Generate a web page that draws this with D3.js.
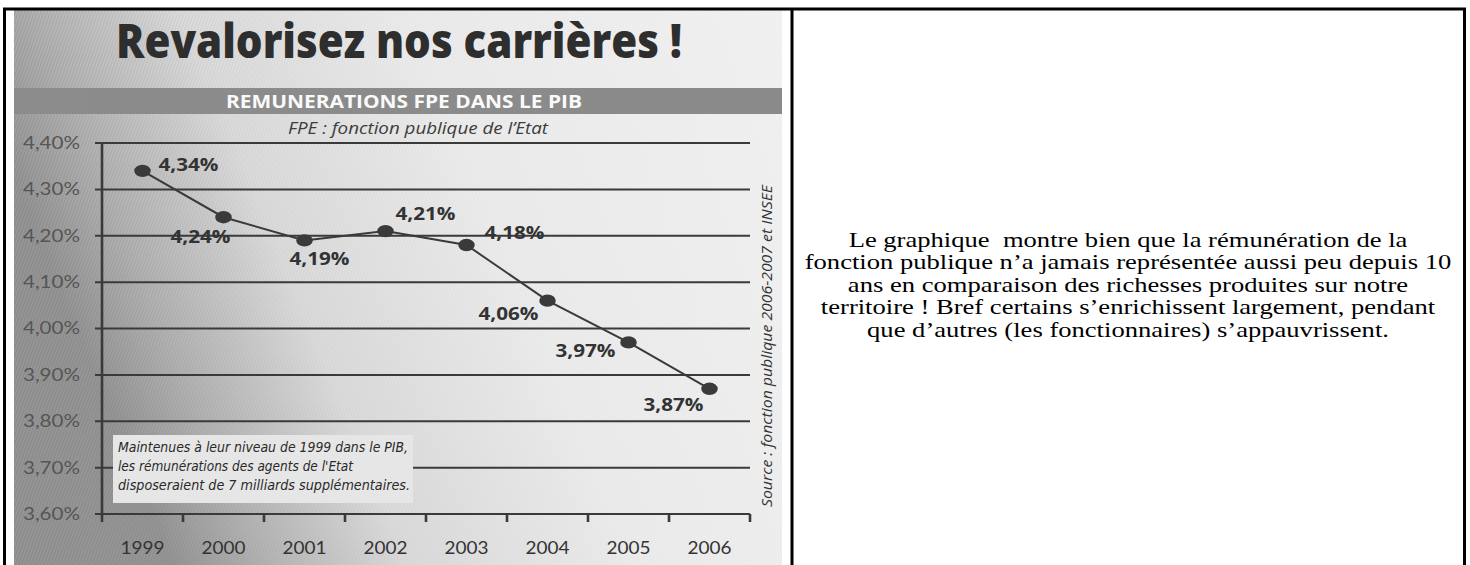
<!DOCTYPE html>
<html>
<head>
<meta charset="utf-8">
<script src="https://cdn.jsdelivr.net/npm/d3@7"></script>
<style>
  body { margin: 0; background: #fff; }
  svg text { white-space: pre; }
</style>
</head>
<body>
<script>
// data
var years = ["1999", "2000", "2001", "2002", "2003", "2004", "2005", "2006"];
var values = [4.34, 4.24, 4.19, 4.21, 4.18, 4.06, 3.97, 3.87];
var yTicks = [3.6, 3.7, 3.8, 3.9, 4.0, 4.1, 4.2, 4.3, 4.4];

var title = "Revalorisez nos carrières !";
var bandTitle = "REMUNERATIONS FPE DANS LE PIB";
var subTitle = "FPE : fonction publique de l\u2019Etat";
var sourceText = "Source : fonction publique 2006-2007 et INSEE";
var noteLines = [
    "Maintenues à leur niveau de 1999 dans le PIB,",
    "les rémunérations des agents de l'Etat",
    "disposeraient de 7 milliards supplémentaires."
];
var commentLines = [
    "Le graphique  montre bien que la rémunération de la",
    "fonction publique n\u2019a jamais représentée aussi peu depuis 10",
    "ans en comparaison des richesses produites sur notre",
    "territoire ! Bref certains s\u2019enrichissent largement, pendant",
    "que d\u2019autres (les fonctionnaires) s\u2019appauvrissent."
];

// where each value label sits around its point (dx, dy)
var labelOffsets = [[46, 0], [-23, 26], [15, 25], [40, -11], [48, -6], [-39, 19], [-43, 15], [-36, 22]];

// the page was photographed a bit wider than tall
var stretch = 1.33;

var svgWidth = 1470;
var svgHeight = 565;

var svg = d3.select("body")
    .append("svg")
    .attr("width", svgWidth)
    .attr("height", svgHeight);

var defs = svg.append("defs");

// scanned paper: dark on the left, fading to almost white
var bg = defs.append("linearGradient")
    .attr("id", "paper")
    .attr("x1", "0").attr("y1", "0.3")
    .attr("x2", "1").attr("y2", "0");
bg.append("stop").attr("offset", "0%").attr("stop-color", "#959595");
bg.append("stop").attr("offset", "10%").attr("stop-color", "#b0b0b0");
bg.append("stop").attr("offset", "28%").attr("stop-color", "#dadada");
bg.append("stop").attr("offset", "55%").attr("stop-color", "#ebebeb");
bg.append("stop").attr("offset", "100%").attr("stop-color", "#f1f1f1");

var band = defs.append("linearGradient")
    .attr("id", "band")
    .attr("x1", "0").attr("x2", "1");
band.append("stop").attr("offset", "0%").attr("stop-color", "#8c8c8c");
band.append("stop").attr("offset", "100%").attr("stop-color", "#8a8a8a");

// halftone grain
var grain = defs.append("pattern")
    .attr("id", "grain")
    .attr("width", 3).attr("height", 3)
    .attr("patternUnits", "userSpaceOnUse")
    .attr("patternTransform", "rotate(20)");
grain.append("rect").attr("width", 1).attr("height", 3).attr("fill", "#000").attr("opacity", 0.08);

var fade = defs.append("linearGradient").attr("id", "fade").attr("x1", "0").attr("x2", "1");
fade.append("stop").attr("offset", "0%").attr("stop-color", "#fff");
fade.append("stop").attr("offset", "35%").attr("stop-color", "#555");
fade.append("stop").attr("offset", "100%").attr("stop-color", "#222");
defs.append("mask").attr("id", "fadeMask")
    .append("rect").attr("x", 14).attr("y", 10).attr("width", 768).attr("height", 560).attr("fill", "url(#fade)");

// picture cell
var pic = svg.append("g");
pic.append("rect")
    .attr("x", 14).attr("y", 10)
    .attr("width", 768).attr("height", 560)
    .attr("fill", "url(#paper)");
pic.append("rect")
    .attr("x", 14).attr("y", 10)
    .attr("width", 768).attr("height", 560)
    .attr("fill", "url(#grain)")
    .attr("mask", "url(#fadeMask)");

// headline
pic.append("text")
    .attr("x", 399).attr("y", 58)
    .attr("text-anchor", "middle")
    .attr("font-family", "'Open Sans', 'Noto Sans', sans-serif")
    .attr("font-weight", 800)
    .attr("font-size", 48)
    .attr("textLength", 566)
    .attr("lengthAdjust", "spacingAndGlyphs")
    .attr("fill", "#2e2e2e")
    .text(title);

// grey band
pic.append("rect")
    .attr("x", 14).attr("y", 88)
    .attr("width", 768).attr("height", 26)
    .attr("fill", "url(#band)");
pic.append("text")
    .attr("x", 404).attr("y", 108)
    .attr("text-anchor", "middle")
    .attr("font-family", "'Open Sans', 'Noto Sans', sans-serif")
    .attr("font-weight", "bold")
    .attr("font-size", 18)
    .attr("textLength", 356)
    .attr("lengthAdjust", "spacingAndGlyphs")
    .attr("fill", "#fafafa")
    .text(bandTitle);

pic.append("text")
    .attr("x", 418).attr("y", 134)
    .attr("text-anchor", "middle")
    .attr("font-family", "'Open Sans', sans-serif")
    .attr("font-style", "italic")
    .attr("font-size", 16)
    .attr("textLength", 260)
    .attr("lengthAdjust", "spacingAndGlyphs")
    .attr("fill", "#3c3c3c")
    .text(subTitle);

// scales
var x = d3.scaleBand()
    .domain(years)
    .range([102, 750]);

var y = d3.scaleLinear()
    .domain([3.6, 4.4])
    .range([514, 143]);

var chartGroup = pic.append("g");
var ink = "#3a3a3a";

// horizontal grid
chartGroup.selectAll(".grid")
    .data(yTicks)
    .enter()
    .append("line")
    .attr("class", "grid")
    .attr("x1", 95)
    .attr("x2", 750)
    .attr("y1", d => y(d))
    .attr("y2", d => y(d))
    .attr("stroke", ink)
    .attr("stroke-width", 2);

// y axis labels
var leftAxis = d3.axisLeft(y)
    .tickValues(yTicks)
    .tickSize(0)
    .tickPadding(22)
    .tickFormat(d => d.toFixed(2).replace(".", ",") + "%");

var yAxis = chartGroup.append("g")
    .attr("transform", "translate(102,0)")
    .call(leftAxis);
yAxis.select(".domain").remove();
yAxis.selectAll("text")
    .attr("font-family", "Lato, 'Open Sans', sans-serif")
    .attr("font-size", 17)
    .attr("textLength", 57)
    .attr("lengthAdjust", "spacingAndGlyphs")
    .attr("fill", "#555");

// y axis line
chartGroup.append("line")
    .attr("x1", 102).attr("x2", 102)
    .attr("y1", y(4.4)).attr("y2", y(3.6))
    .attr("stroke", ink)
    .attr("stroke-width", 2.6);

// x ticks at the band edges
var edges = years.map(d => x(d)).concat([x.range()[1]]);
chartGroup.selectAll(".xtick")
    .data(edges)
    .enter()
    .append("line")
    .attr("class", "xtick")
    .attr("x1", d => d).attr("x2", d => d)
    .attr("y1", y(3.6)).attr("y2", y(3.6) + 8)
    .attr("stroke", ink)
    .attr("stroke-width", 2.6);

var bottomAxis = d3.axisBottom(x).tickSize(0).tickPadding(28);
var xAxis = chartGroup.append("g")
    .attr("transform", `translate(0,${y(3.6)})`)
    .call(bottomAxis);
xAxis.select(".domain").remove();
xAxis.selectAll("text")
    .attr("font-family", "Lato, 'Open Sans', sans-serif")
    .attr("font-size", 17)
    .attr("textLength", 44)
    .attr("lengthAdjust", "spacingAndGlyphs")
    .attr("fill", "#333");

// note box over the lower grid
var note = chartGroup.append("g");
note.append("rect")
    .attr("x", 113).attr("y", 435)
    .attr("width", 300).attr("height", 68)
    .attr("fill", "#e6e6e6");
note.selectAll("text")
    .data(noteLines)
    .enter()
    .append("text")
    .attr("x", 118)
    .attr("y", (d, i) => 452 + i * 19)
    .attr("font-family", "'DejaVu Sans Condensed', 'Liberation Sans Narrow', sans-serif")
    .attr("font-stretch", "condensed")
    .attr("font-style", "italic")
    .attr("font-size", 14)
    .attr("fill", "#2a2a2a")
    .attr("textLength", (d, i) => [290, 235, 292][i])
    .attr("lengthAdjust", "spacingAndGlyphs")
    .text(d => d);

// the series
var cx = (d, i) => x(years[i]) + x.bandwidth() / 2;

var line = d3.line()
    .x(cx)
    .y(d => y(d));

chartGroup.append("path")
    .datum(values)
    .attr("d", line)
    .attr("fill", "none")
    .attr("stroke", ink)
    .attr("stroke-width", 2);

chartGroup.selectAll("ellipse")
    .data(values)
    .enter()
    .append("ellipse")
    .attr("cx", cx)
    .attr("cy", d => y(d))
    .attr("rx", 6.2 * stretch)
    .attr("ry", 6.2)
    .attr("fill", ink);

chartGroup.selectAll(".vlabel")
    .data(values)
    .enter()
    .append("text")
    .attr("class", "vlabel")
    .attr("x", (d, i) => cx(d, i) + labelOffsets[i][0])
    .attr("y", (d, i) => y(d) + labelOffsets[i][1])
    .attr("text-anchor", "middle")
    .attr("font-family", "'Open Sans', 'DejaVu Sans', sans-serif")
    .attr("font-weight", "bold")
    .attr("font-size", 17)
    .attr("textLength", 60)
    .attr("lengthAdjust", "spacingAndGlyphs")
    .attr("fill", "#333")
    .text(d => d.toFixed(2).replace(".", ",") + "%");

// source, written upwards
pic.append("text")
    .attr("transform", "translate(772,346) rotate(-90)")
    .attr("text-anchor", "middle")
    .attr("font-family", "'Open Sans', sans-serif")
    .attr("font-style", "italic")
    .attr("font-size", 15)
    .attr("textLength", 322)
    .attr("lengthAdjust", "spacingAndGlyphs")
    .attr("fill", "#333")
    .text(sourceText);

// comment in the right cell
svg.append("g").selectAll("text")
    .data(commentLines)
    .enter()
    .append("text")
    .attr("transform", (d, i) => `translate(1128,${247 + i * 22.4}) scale(${stretch},1)`)
    .attr("text-anchor", "middle")
    .attr("font-family", "'Liberation Serif', 'Times New Roman', serif")
    .attr("font-size", 20)
    .attr("fill", "#000")
    .text(d => d);

// table borders
var borders = svg.append("g")
    .attr("stroke", "#000")
    .attr("stroke-width", 3);
borders.append("line").attr("x1", 3).attr("x2", 1466).attr("y1", 9).attr("y2", 9);
borders.append("line").attr("x1", 4.5).attr("x2", 4.5).attr("y1", 8).attr("y2", 565);
borders.append("line").attr("x1", 792).attr("x2", 792).attr("y1", 8).attr("y2", 565);
borders.append("line").attr("x1", 1464.5).attr("x2", 1464.5).attr("y1", 8).attr("y2", 565);
</script>
</body>
</html>
